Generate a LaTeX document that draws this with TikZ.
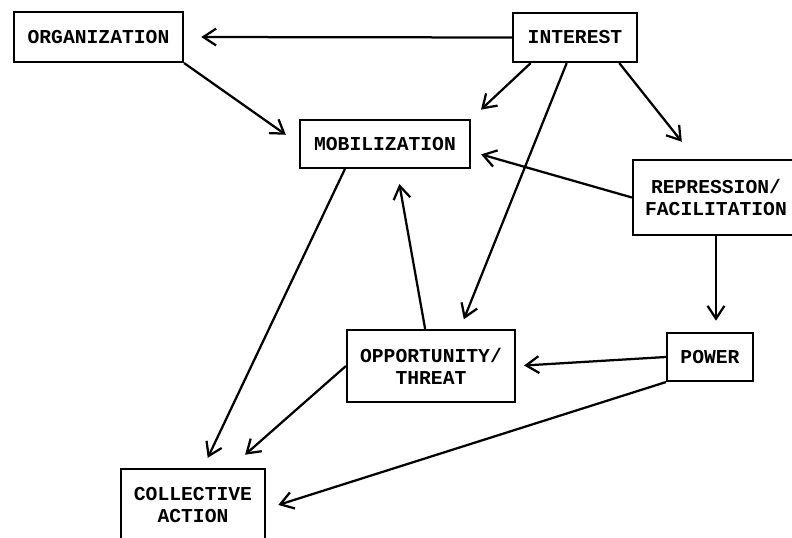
\documentclass[tikz,border=0pt]{standalone}
\usepackage{fontspec}
\setmonofont{Liberation Mono}
\usetikzlibrary{arrows.meta,calc}
\tikzset{
  vbox/.style={draw, line width=1.5pt, inner sep=0pt, align=center,
    font=\ttfamily\bfseries\fontsize{14}{15.8}\selectfont},
  varr/.style={-{Straight Barb[length=3.2mm, width=4.2mm]}, line width=1.6pt},
}

\begin{document}
\begin{tikzpicture}[x=0.025cm, y=-0.025cm]
\useasboundingbox (0,0) rectangle (792,538);
\clip (0,0) rectangle (792,538);
% boxes
\node[vbox, minimum width=4.225cm, minimum height=1.25cm] (org) at (98.5,37) {ORGANIZATION};
\node[vbox, minimum width=3.1cm, minimum height=1.225cm] (int) at (575,37.5) {INTEREST};
\node[vbox, minimum width=4.25cm, minimum height=1.2cm] (mob) at (385,144) {MOBILIZATION};
\node[vbox, minimum width=4.15cm, minimum height=1.875cm] (rep) at (716,197.5) {REPRESSION/\\FACILITATION};
\node[vbox, minimum width=4.2cm, minimum height=1.8cm] (opp) at (431,366) {OPPORTUNITY/\\THREAT};
\node[vbox, minimum width=2.15cm, minimum height=1.2cm] (pow) at (710,357) {POWER};
\node[vbox, minimum width=3.6cm, minimum height=1.8cm] (col) at (193,505) {COLLECTIVE\\ACTION};
% arrows
\draw[varr, shorten >=0.43cm] (int.west) -- (org.east);
\draw[varr, shorten >=0.4cm] (org.south east) -- (mob.west);
\draw[varr, shorten >=0.34cm] (int.210) -- (mob.north east);
\draw[varr, shorten >=0.26cm] (int.252) -- (opp.52);
\draw[varr, shorten >=0.55cm] (int.330) -- (rep.118);
\draw[varr, shorten >=0.26cm] (rep.west) -- (mob.355);
\draw[varr, shorten >=0.28cm] (rep.south) -- (rep.south |- pow.north);
\draw[varr, shorten >=0.2cm] (pow.west) -- (opp.east);
\draw[varr, shorten >=0.38cm] (opp.99) -- (mob.295);
\draw[varr, shorten >=0.28cm] (mob.212) -- (col.75);
\draw[varr, shorten >=0.5cm] (opp.west) -- (col.45);
\draw[varr, shorten >=0.32cm] (pow.south west) -- (col.357);
\end{tikzpicture}
\end{document}
